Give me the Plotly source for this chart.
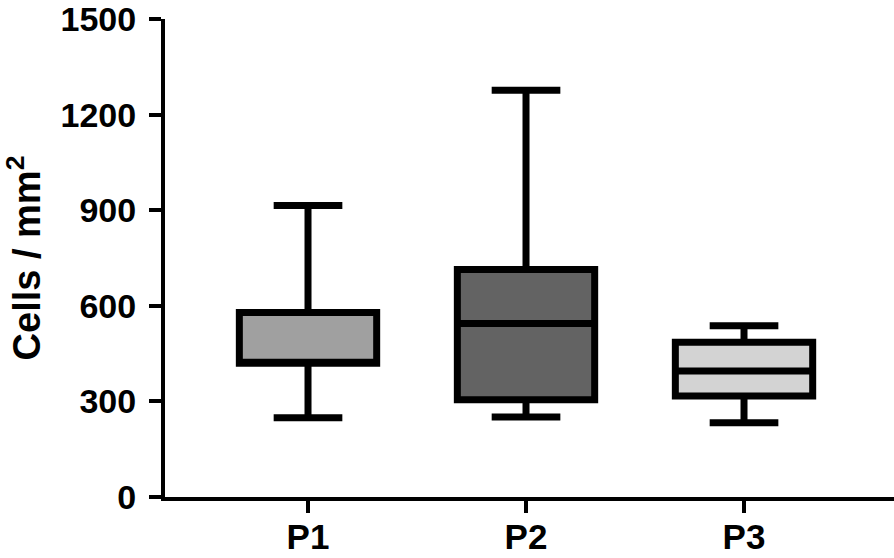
import plotly.graph_objects as go

categories = ["P1", "P2", "P3"]
lower = [249, 251, 233]
q1 = [420, 305, 317]
median = [420, 545, 396]
q3 = [579, 714, 486]
upper = [915, 1277, 538]
fills = ["#a0a0a0", "#636363", "#d3d3d3"]
y_ticks = [0, 300, 600, 900, 1200, 1500]

fig = go.Figure()
for i, c in enumerate(categories):
    fig.add_trace(go.Box(
        x=[c], q1=[q1[i]], median=[median[i]], q3=[q3[i]],
        lowerfence=[lower[i]], upperfence=[upper[i]],
        boxpoints=False, width=0.63, whiskerwidth=0.5,
        fillcolor=fills[i], line=dict(color="black", width=7),
        showlegend=False, hoverinfo="skip",
    ))

font_family = "Arial, Liberation Sans, sans-serif"
fig.update_layout(
    width=894, height=558,
    margin=dict(l=165, r=0, t=14, b=61),
    plot_bgcolor="white", paper_bgcolor="white",
    xaxis=dict(
        type="category", categoryorder="array", categoryarray=categories,
        range=[-0.656, 2.688], showgrid=False, zeroline=False,
        showline=True, linecolor="black", linewidth=4,
        ticks="outside", ticklen=12, tickwidth=4, tickcolor="black",
        ticklabelstandoff=-6,
        tickfont=dict(family=font_family, size=35, color="black", weight="bold"),
    ),
    yaxis=dict(
        range=[0, 1501], tickmode="array", tickvals=y_ticks,
        ticktext=[str(v) for v in y_ticks],
        showgrid=False, zeroline=False,
        showline=True, linecolor="black", linewidth=4,
        ticks="outside", ticklen=12, tickwidth=4, tickcolor="black",
        ticklabelstandoff=6, ticklabeloverflow="allow",
        tickfont=dict(family=font_family, size=34, color="black", weight="bold"),
        title=dict(text="Cells / mm<sup>2</sup>", standoff=11,
                   font=dict(family=font_family, size=38, color="black", weight="bold")),
    ),
)
fig.write_html("out.html", config={"displayModeBar": False},
               post_script="document.body.style.margin='0px';")
